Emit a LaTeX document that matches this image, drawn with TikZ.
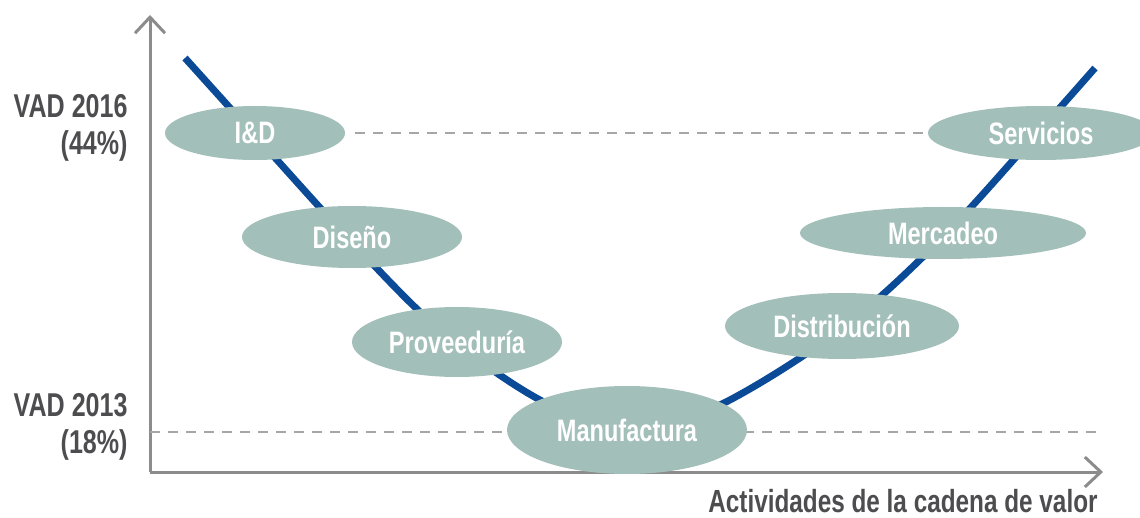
\documentclass[tikz,border=0pt]{standalone}
\usepackage{fontspec}
\setmainfont{Liberation Sans}[FakeStretch=0.76]
\usepackage{xcolor}
\usetikzlibrary{arrows.meta, shapes, positioning, calc}
\definecolor{axisgray}{HTML}{8C8C8C}
\definecolor{labelgray}{HTML}{4D4D4F}
\definecolor{curveblue}{HTML}{0B4A96}
\definecolor{stagefill}{HTML}{A3BFBA}
\tikzset{
  stage/.style={ellipse, fill=stagefill, text=white, font=\bfseries\fontsize{15.5}{17}\selectfont, inner sep=0pt},
  axis/.style={axisgray, line width=1.5pt, -{Straight Barb[length=8pt,width=15pt]}},
  guide/.style={gray!70, line width=0.7pt, dash pattern=on 5pt off 4pt},
  vadlabel/.style={labelgray, font=\bfseries\fontsize{16.5}{18.5}\selectfont, align=right, anchor=east, inner sep=0pt}
}

\begin{document}
\begin{tikzpicture}[x=0.5pt, y=-0.5pt]
    \useasboundingbox (0,0) rectangle (1140,518);

    % Axes
    \coordinate (origin) at (150,472);
    \coordinate (ytip) at (150,15);
    \coordinate (xtip) at (1103,472);
    \coordinate (low) at (150,432);
    \coordinate (lowend) at (1103,432);
    \draw[axis] (origin) -- (ytip);
    \draw[axis] (origin) -- (xtip);

    % VAD 2013 level
    \draw[guide] (low) -- (lowend);

    % Smile curve
    \draw[curveblue, line width=3.5pt] plot[smooth, tension=0.55] coordinates {
        (185,58) (268,150) (350,240) (440,330) (540,400) (630,432)
        (720,405) (840,330) (940,240) (1040,130) (1095,68)};

    % Value chain stages
    \node[stage, minimum width=90pt, minimum height=27pt] (id) at (255,133) {I\&D};
    \node[stage, minimum width=110pt, minimum height=31pt] (diseno) at (352,237) {Diseño};
    \node[stage, minimum width=105pt, minimum height=35pt] (prov) at (457,342) {Proveeduría};
    \node[stage, minimum width=120pt, minimum height=44pt] (manuf) at (627,430) {Manufactura};
    \node[stage, minimum width=117pt, minimum height=33pt] (distr) at (842,326) {Distribución};
    \node[stage, minimum width=143pt, minimum height=26pt] (merc) at (943,233) {Mercadeo};
    \node[stage, minimum width=113pt, minimum height=27pt] (serv) at (1041,133) {Servicios};

    % VAD 2016 level
    \draw[guide] ([xshift=5pt]id.east) -- (serv.west);

    % Labels
    \node[vadlabel] (vad16) at (128,128) {VAD 2016\\(44\%)};
    \node[vadlabel] (vad13) at (128,427) {VAD 2013\\(18\%)};
    \node[labelgray, font=\bfseries\fontsize{16}{18}\selectfont, anchor=east, inner sep=0pt] (xlabel) at (1098,501) {Actividades de la cadena de valor};
\end{tikzpicture}
\end{document}
